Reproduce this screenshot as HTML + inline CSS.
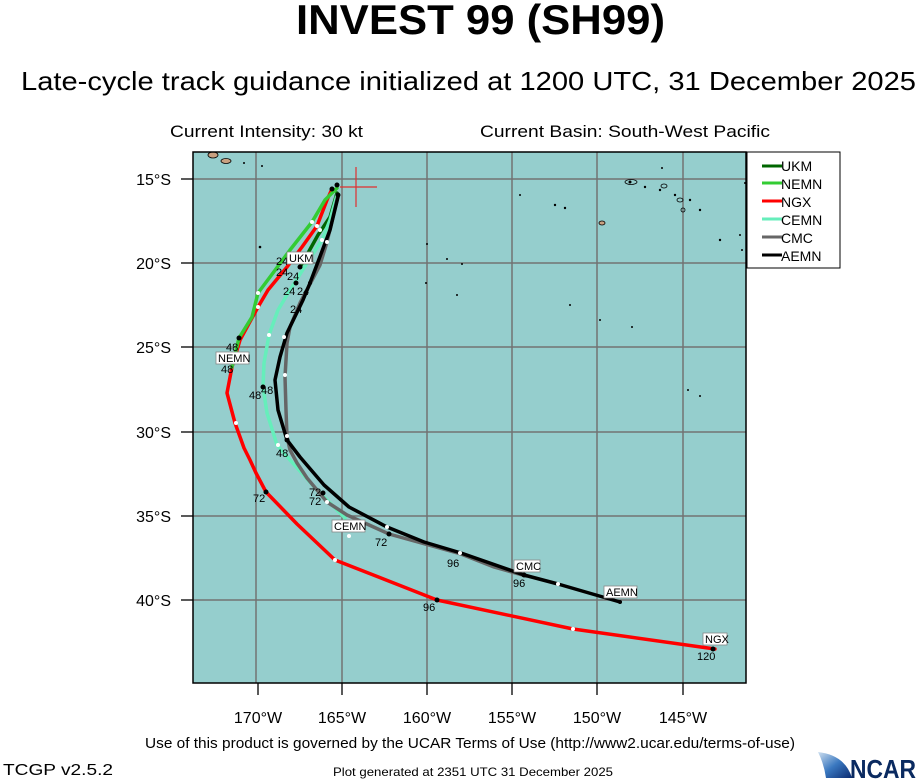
<!DOCTYPE html>
<html><head><meta charset="utf-8"><style>html,body{margin:0;padding:0;background:#fff}svg{display:block}</style></head>
<body>
<svg width="918" height="780" viewBox="0 0 918 780" xmlns="http://www.w3.org/2000/svg" font-family="Liberation Sans, sans-serif">
<text x="296" y="34" font-size="42" font-weight="bold" textLength="369" lengthAdjust="spacingAndGlyphs">INVEST 99 (SH99)</text>
<text x="21" y="90" font-size="26" textLength="895" lengthAdjust="spacingAndGlyphs">Late-cycle track guidance initialized at 1200 UTC, 31 December 2025</text>
<text x="170" y="137" font-size="17" textLength="193" lengthAdjust="spacingAndGlyphs">Current Intensity: 30 kt</text>
<text x="480" y="137" font-size="17" textLength="290" lengthAdjust="spacingAndGlyphs">Current Basin: South-West Pacific</text>

<rect x="193" y="152" width="553" height="531" fill="#95cecd"/>
<g stroke="#737373" stroke-width="1.5">
<line x1="256" y1="152" x2="256" y2="683"/><line x1="342" y1="152" x2="342" y2="683"/><line x1="427" y1="152" x2="427" y2="683"/><line x1="512" y1="152" x2="512" y2="683"/><line x1="597" y1="152" x2="597" y2="683"/><line x1="683" y1="152" x2="683" y2="683"/>
<line x1="193" y1="179" x2="746" y2="179"/><line x1="193" y1="263" x2="746" y2="263"/><line x1="193" y1="347" x2="746" y2="347"/><line x1="193" y1="432" x2="746" y2="432"/><line x1="193" y1="516" x2="746" y2="516"/><line x1="193" y1="600" x2="746" y2="600"/>
</g>
<!-- islands -->
<g fill="#c8a080" stroke="#000" stroke-width="0.8">
<ellipse cx="213" cy="155" rx="5" ry="3"/><ellipse cx="226" cy="161" rx="5" ry="2.5"/><ellipse cx="602" cy="223" rx="3" ry="2"/>
</g>
<g fill="#000">
<circle cx="244" cy="163" r="1"/><circle cx="262" cy="166" r="1"/><circle cx="427" cy="244" r="1"/><circle cx="447" cy="259" r="1"/><circle cx="462" cy="264" r="1"/><circle cx="457" cy="295" r="1"/><circle cx="520" cy="195" r="1"/><circle cx="555" cy="205" r="1.2"/><circle cx="565" cy="208" r="1.2"/><circle cx="630" cy="182" r="1.5"/><circle cx="645" cy="187" r="1.2"/><circle cx="660" cy="190" r="1.2"/><circle cx="675" cy="195" r="1.2"/><circle cx="690" cy="200" r="1.2"/><circle cx="700" cy="210" r="1.2"/><circle cx="720" cy="240" r="1.2"/><circle cx="740" cy="235" r="1"/><circle cx="600" cy="320" r="1"/><circle cx="632" cy="327" r="1"/><circle cx="688" cy="390" r="1"/><circle cx="700" cy="396" r="1"/><circle cx="260" cy="247" r="1.3"/><circle cx="426" cy="283" r="1"/><circle cx="570" cy="305" r="1"/><circle cx="662" cy="168" r="1"/><circle cx="745" cy="183" r="1"/><circle cx="742" cy="250" r="1"/>
</g>
<g fill="none" stroke="#000" stroke-width="0.8">
<ellipse cx="631" cy="182" rx="6" ry="2.5"/><ellipse cx="664" cy="186" rx="3" ry="2"/><ellipse cx="680" cy="200" rx="3" ry="2"/><ellipse cx="683" cy="210" rx="2" ry="2"/>
</g>
<!-- crosshair -->
<g stroke="#e03030" stroke-width="1.2"><line x1="340" y1="187" x2="377" y2="187"/><line x1="356" y1="167" x2="356" y2="207"/></g>

<g fill="none" stroke-width="3.5" stroke-linejoin="round" stroke-linecap="round">
<polyline stroke="#ff0000" points="332,189 327,200 317,226 302,247 287,267 268,290 258,307 240,340 232,367 227,393 235,423 244,448 250,460 256,473 266,492 297,524 335,560 437,600 573,629 715,649"/>
<polyline stroke="#33cc33" points="337,188 325,200 312,222 290,250 273,273 258,293 252,317 239,338 232,367"/>
<polyline stroke="#006600" points="337,193 330,217 318,235 308,253 300,267"/>
<polyline stroke="#66eebb" points="337,195 330,220 322,240 307,263 290,290 278,310 269,335 264,363 263,387 267,413 277,445 290,460 317,490 345,518"/>
<polyline stroke="#666666" points="338,195 333,217 327,242 320,265 300,303 290,327 287,343 285,377 286,410 287,437 290,450 297,463 307,478 327,502 347,515 389,534 461,554 494,567 526,576"/>
<polyline stroke="#000000" points="338,197 330,230 310,283 303,300 287,333 280,357 275,380 278,410 287,440 300,457 324,485 349,507 387,527 424,542 461,553 524,575 558,584 620,602"/>
</g>
<g fill="#000">
<circle cx="332" cy="189" r="2.5"/><circle cx="337" cy="185" r="2.5"/><circle cx="338" cy="195" r="2.5"/>
<circle cx="300" cy="267" r="2.5"/><circle cx="296" cy="283" r="2.5"/><circle cx="239" cy="338" r="2.5"/><circle cx="263" cy="387" r="2.5"/><circle cx="287" cy="440" r="2.5"/><circle cx="266" cy="492" r="2.5"/><circle cx="323" cy="493" r="2.5"/><circle cx="389" cy="534" r="2.5"/><circle cx="437" cy="600" r="2.5"/><circle cx="524" cy="575" r="2.5"/><circle cx="713" cy="649" r="2.5"/><circle cx="620" cy="602" r="2"/><circle cx="310" cy="283" r="2"/>
</g>
<g fill="#fff">
<circle cx="312" cy="222" r="2"/><circle cx="317" cy="226" r="2"/><circle cx="320" cy="230" r="2"/><circle cx="322" cy="240" r="2"/><circle cx="327" cy="242" r="2"/><circle cx="258" cy="293" r="2"/><circle cx="258" cy="307" r="2"/><circle cx="269" cy="335" r="2"/><circle cx="284" cy="337" r="2"/><circle cx="285" cy="375" r="2"/><circle cx="236" cy="423" r="2"/><circle cx="278" cy="445" r="2"/><circle cx="287" cy="436" r="2"/><circle cx="327" cy="502" r="2"/><circle cx="349" cy="536" r="2"/><circle cx="387" cy="527" r="2"/><circle cx="335" cy="560" r="2"/><circle cx="460" cy="553" r="2"/><circle cx="558" cy="584" r="2"/><circle cx="573" cy="629" r="2"/>
</g>
<g font-size="11" fill="#000">
<text x="276" y="265">24</text><text x="276" y="276">24</text><text x="287" y="280">24</text><text x="283" y="295">24</text><text x="297" y="295">24</text><text x="290" y="313">24</text>
<text x="226" y="351">48</text><text x="221" y="373">48</text><text x="249" y="399">48</text><text x="261" y="394">48</text><text x="276" y="457">48</text>
<text x="253" y="502">72</text><text x="309" y="496">72</text><text x="309" y="505">72</text><text x="375" y="546">72</text>
<text x="447" y="567">96</text><text x="513" y="587">96</text><text x="423" y="611">96</text><text x="697" y="660">120</text>
</g>
<g font-size="11" fill="#000">
<rect x="287" y="252" width="26" height="12" fill="#fff" stroke="#888" stroke-width="0.8"/><text x="289" y="262">UKM</text>
<rect x="216" y="352" width="33" height="12" fill="#fff" stroke="#888" stroke-width="0.8"/><text x="218" y="362">NEMN</text>
<rect x="332" y="520" width="33" height="12" fill="#fff" stroke="#888" stroke-width="0.8"/><text x="334" y="530">CEMN</text>
<rect x="514" y="560" width="26" height="12" fill="#fff" stroke="#888" stroke-width="0.8"/><text x="516" y="570">CMC</text>
<rect x="604" y="586" width="33" height="12" fill="#fff" stroke="#888" stroke-width="0.8"/><text x="606" y="596">AEMN</text>
<rect x="703" y="633" width="24" height="12" fill="#fff" stroke="#888" stroke-width="0.8"/><text x="705" y="643">NGX</text>
</g>
<rect x="193" y="152" width="553" height="531" fill="none" stroke="#000" stroke-width="1.5"/>

<!-- legend -->
<rect x="747" y="152" width="93" height="116" fill="#fff" stroke="#000" stroke-width="1"/>
<g stroke-width="3"><line x1="762" y1="166" x2="782" y2="166" stroke="#006600"/><line x1="762" y1="183" x2="782" y2="183" stroke="#33cc33"/><line x1="762" y1="201" x2="782" y2="201" stroke="#ff0000"/><line x1="762" y1="219" x2="782" y2="219" stroke="#66eebb"/><line x1="762" y1="237" x2="782" y2="237" stroke="#666"/><line x1="762" y1="255" x2="782" y2="255" stroke="#000"/></g>
<g font-size="14"><text x="781" y="171">UKM</text><text x="781" y="189">NEMN</text><text x="781" y="207">NGX</text><text x="781" y="225">CEMN</text><text x="781" y="243">CMC</text><text x="781" y="261">AEMN</text></g>

<!-- axes ticks -->
<g stroke="#000" stroke-width="1.3">
<line x1="181" y1="179" x2="193" y2="179"/><line x1="181" y1="263" x2="193" y2="263"/><line x1="181" y1="347" x2="193" y2="347"/><line x1="181" y1="432" x2="193" y2="432"/><line x1="181" y1="516" x2="193" y2="516"/><line x1="181" y1="600" x2="193" y2="600"/>
<line x1="258" y1="683" x2="258" y2="695"/><line x1="342" y1="683" x2="342" y2="695"/><line x1="427" y1="683" x2="427" y2="695"/><line x1="512" y1="683" x2="512" y2="695"/><line x1="597" y1="683" x2="597" y2="695"/><line x1="683" y1="683" x2="683" y2="695"/>
</g>
<g font-size="16" text-anchor="end">
<text x="171" y="185">15°S</text><text x="171" y="269">20°S</text><text x="171" y="353">25°S</text><text x="171" y="438">30°S</text><text x="171" y="522">35°S</text><text x="171" y="606">40°S</text>
</g>
<g font-size="16" text-anchor="middle">
<text x="258" y="723">170°W</text><text x="342" y="723">165°W</text><text x="427" y="723">160°W</text><text x="512" y="723">155°W</text><text x="597" y="723">150°W</text><text x="683" y="723">145°W</text>
</g>
<text x="145" y="748" font-size="15" textLength="650" lengthAdjust="spacingAndGlyphs">Use of this product is governed by the UCAR Terms of Use (http://www2.ucar.edu/terms-of-use)</text>
<text x="3" y="775" font-size="16" textLength="110" lengthAdjust="spacingAndGlyphs">TCGP v2.5.2</text>
<text x="333" y="776" font-size="12" textLength="280" lengthAdjust="spacingAndGlyphs">Plot generated at 2351 UTC   31 December 2025</text>
<!-- NCAR logo -->
<defs><linearGradient id="g" x1="0" y1="0" x2="1" y2="1"><stop offset="0" stop-color="#cfe0f0"/><stop offset="0.5" stop-color="#3a78c0"/><stop offset="1" stop-color="#0a2a70"/></linearGradient></defs>
<path d="M818,752 Q845,755 852,778 L826,778 Q824,764 818,752 Z" fill="url(#g)"/>
<text x="850" y="778" font-size="26" font-weight="bold" fill="#0a2a60" textLength="66" lengthAdjust="spacingAndGlyphs">NCAR</text>
</svg>
</body></html>
